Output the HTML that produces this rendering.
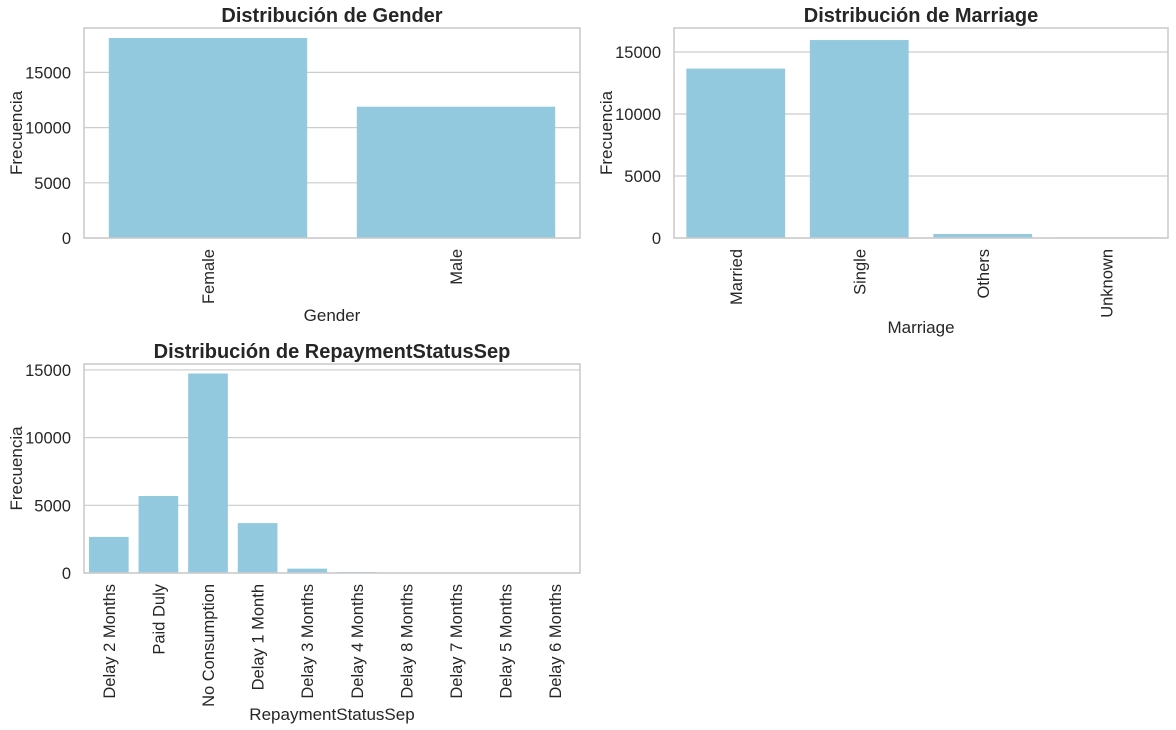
<!DOCTYPE html>
<html><head><meta charset="utf-8"><style>
html,body{margin:0;padding:0;background:#fff;}
svg{display:block;font-family:"Liberation Sans","DejaVu Sans",sans-serif;}
</style></head><body>
<svg id="c" width="1176" height="730"></svg>
<script>
const genderCats = ["Female","Male"];
const genderVals = [18112,11888];
const marriageCats = ["Married","Single","Others","Unknown"];
const marriageVals = [13659,15964,323,54];
const repayCats = ["Delay 2 Months","Paid Duly","No Consumption","Delay 1 Month","Delay 3 Months","Delay 4 Months","Delay 8 Months","Delay 7 Months","Delay 5 Months","Delay 6 Months"];
const repayVals = [2667,5686,14737,3688,322,76,19,9,26,11];
const yTicks = [0,5000,10000,15000];

const NS="http://www.w3.org/2000/svg";
const svg=document.getElementById('c');
function el(tag,attrs,parent){const e=document.createElementNS(NS,tag);for(const k in attrs)e.setAttribute(k,attrs[k]);(parent||svg).appendChild(e);return e;}

function panel(name,title,xlabel,cats,vals,box,yMax,xlabelY){
  const g=el('g',{});
  
  
  const {x0,x1,y0,y1}=box;
  const ys=v=>y1-(v/yMax)*(y1-y0);
  const band=(x1-x0)/cats.length;
  yTicks.forEach(t=>{
    const y=ys(t);
    if(y<y0-0.5)return;
    const l=el('line',{x1:x0,x2:x1,y1:y,y2:y,stroke:'#cccccc','stroke-width':1.2},g);
    
    
    const tx=el('text',{x:x0-13,y:y+6,'text-anchor':'end','font-size':16.5,fill:'#262626'},g);
    tx.textContent=t;
    
    
  });
  cats.forEach((c,i)=>{
    const cx=x0+band*(i+0.5);
    const w=band*0.8;
    const r=el('rect',{x:cx-w/2,y:ys(vals[i]),width:w,height:y1-ys(vals[i]),fill:'#93c9df'},g);
    
    
    const t=el('text',{x:0,y:0,transform:`translate(${cx+6},${y1+11}) rotate(-90)`,'text-anchor':'end','font-size':16.5,fill:'#262626'},g);
    t.textContent=c;
    
    
  });
  const fr=el('rect',{x:x0,y:y0,width:x1-x0,height:y1-y0,fill:'none',stroke:'#cccccc','stroke-width':1.6},g);
  
  
  const tt=el('text',{x:(x0+x1)/2,y:y0-6,'text-anchor':'middle','font-size':20,'font-weight':'bold',fill:'#262626'},g);
  tt.textContent=title;
  
  
  const xl=el('text',{x:(x0+x1)/2,y:xlabelY,'text-anchor':'middle','font-size':17,fill:'#262626'},g);
  xl.textContent=xlabel;
  
  
  const yl=el('text',{x:0,y:0,transform:`translate(${x0-62},${(y0+y1)/2}) rotate(-90)`,'text-anchor':'middle','font-size':17,fill:'#262626'},g);
  yl.textContent='Frecuencia';
  
  
}
panel('gender','Distribución de Gender','Gender',genderCats,genderVals,{x0:84,x1:580,y0:28,y1:238},19020,321);
panel('marriage','Distribución de Marriage','Marriage',marriageCats,marriageVals,{x0:674,x1:1168,y0:28,y1:238},16935,333);
panel('repayment','Distribución de RepaymentStatusSep','RepaymentStatusSep',repayCats,repayVals,{x0:84,x1:580,y0:364,y1:573},15440,720);
</script>
</body></html>
